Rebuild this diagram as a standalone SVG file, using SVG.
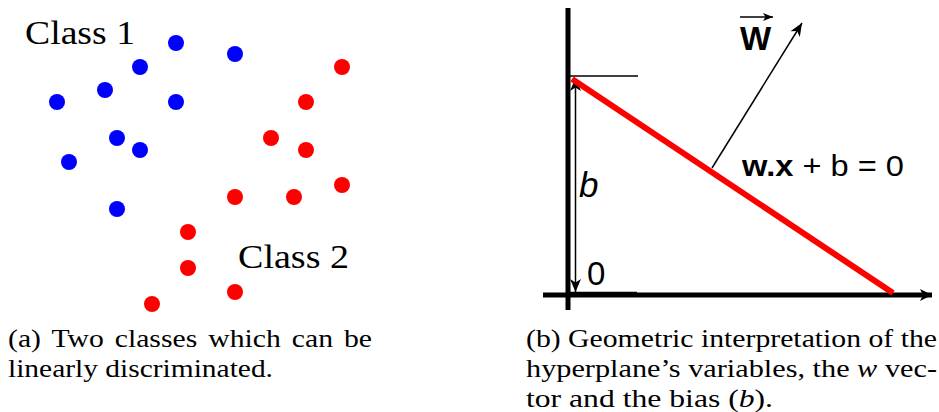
<svg xmlns="http://www.w3.org/2000/svg" width="939" height="412" viewBox="0 0 939 412">
<style>
.bg{fill:#fff}
.blue{fill:#0000ff}
.red{fill:#ff0000}
.serif{font-family:'Liberation Serif','Times New Roman',Times,serif;fill:#000}
.sans{font-family:'Liberation Sans',Arial,Helvetica,sans-serif;fill:#000}
.thin{stroke:#000;stroke-width:1.5;fill:none}
.axis{stroke:#000;stroke-width:5;fill:none}
.hyper{stroke:#ff0000;stroke-width:6;fill:none}
</style>
<defs>
<marker id="ah" markerUnits="userSpaceOnUse" markerWidth="16" markerHeight="14" refX="14" refY="7" orient="auto-start-reverse" viewBox="0 0 16 14">
<path d="M14,7 L1,1.5 L4.5,7 L1,12.5 Z" fill="#000"/>
</marker>
<marker id="ahs" markerUnits="userSpaceOnUse" markerWidth="12" markerHeight="10" refX="11" refY="5" orient="auto" viewBox="0 0 12 10">
<path d="M11,5 L1,1 L3.5,5 L1,9 Z" fill="#000"/>
</marker>
<marker id="ahx" markerUnits="userSpaceOnUse" markerWidth="14" markerHeight="14" refX="13" refY="7" orient="auto" viewBox="0 0 14 14">
<path d="M13,7 L1,1 L4,7 L1,13 Z" fill="#000"/>
</marker>
</defs>
<rect class="bg" x="0" y="0" width="939" height="412"/>

<!-- Panel (a) -->
<g id="class1-points">
<circle class="blue" cx="176" cy="43" r="8"/>
<circle class="blue" cx="235" cy="54" r="8"/>
<circle class="blue" cx="140" cy="67" r="8"/>
<circle class="blue" cx="105" cy="90" r="8"/>
<circle class="blue" cx="57" cy="102" r="8"/>
<circle class="blue" cx="176" cy="102" r="8"/>
<circle class="blue" cx="117" cy="138" r="8"/>
<circle class="blue" cx="140" cy="150" r="8"/>
<circle class="blue" cx="69" cy="162" r="8"/>
<circle class="blue" cx="117" cy="209" r="8"/>
</g>
<g id="class2-points">
<circle class="red" cx="342" cy="67" r="8"/>
<circle class="red" cx="306" cy="102" r="8"/>
<circle class="red" cx="271" cy="138" r="8"/>
<circle class="red" cx="306" cy="150" r="8"/>
<circle class="red" cx="342" cy="185" r="8"/>
<circle class="red" cx="235" cy="197" r="8"/>
<circle class="red" cx="294" cy="197" r="8"/>
<circle class="red" cx="188" cy="232" r="8"/>
<circle class="red" cx="188" cy="268" r="8"/>
<circle class="red" cx="235" cy="292" r="8"/>
<circle class="red" cx="152" cy="304" r="8"/>
</g>
<g id="label-class1"><text class="serif" x="25" y="44" font-size="34" textLength="110" lengthAdjust="spacingAndGlyphs">Class 1</text></g>
<g id="label-class2"><text class="serif" x="238" y="268" font-size="34" textLength="111" lengthAdjust="spacingAndGlyphs">Class 2</text></g>
<g id="caption-a">
<text class="serif" x="8" y="347" font-size="25" word-spacing="3" textLength="364" lengthAdjust="spacingAndGlyphs">(a) Two classes which can be</text>
<text class="serif" x="8" y="377" font-size="25" textLength="265" lengthAdjust="spacingAndGlyphs">linearly discriminated.</text>
</g>

<!-- Panel (b) -->
<g id="connectors">
<line class="axis" x1="568" y1="8" x2="568" y2="310"/>
<line class="axis" x1="543" y1="295" x2="932" y2="295" marker-end="url(#ahx)"/>
<line class="thin" x1="570" y1="76" x2="638" y2="76"/>
<line class="thin" x1="570" y1="292.5" x2="637" y2="292.5"/>
<line class="thin" x1="575.5" y1="78" x2="575.5" y2="292" marker-start="url(#ah)" marker-end="url(#ah)"/>
<line class="hyper" x1="572" y1="79" x2="893" y2="293"/>
<line class="thin" stroke-width="2.5" x1="712" y1="168" x2="802" y2="23" marker-end="url(#ah)"/>
<line class="thin" x1="740" y1="17" x2="773" y2="17" marker-end="url(#ahs)"/>
</g>
<g id="label-w"><text class="sans" x="740" y="50" font-size="33" font-weight="bold">W</text></g>
<g id="label-eq"><text class="sans" x="742" y="176" font-size="30" textLength="162" lengthAdjust="spacingAndGlyphs"><tspan font-weight="bold">w.x</tspan> + b = 0</text></g>
<g id="label-b"><text class="sans" x="579" y="197" font-size="35" font-style="italic">b</text></g>
<g id="label-0"><text class="sans" x="587" y="285" font-size="33">0</text></g>
<g id="caption-b">
<text class="serif" x="526" y="347" font-size="25" textLength="411" lengthAdjust="spacingAndGlyphs">(b) Geometric interpretation of the</text>
<text class="serif" x="526" y="377" font-size="25" textLength="411" lengthAdjust="spacingAndGlyphs">hyperplane’s variables, the <tspan font-style="italic">w</tspan> vec-</text>
<text class="serif" x="526" y="407" font-size="25" textLength="247" lengthAdjust="spacingAndGlyphs">tor and the bias (<tspan font-style="italic">b</tspan>).</text>
</g>
</svg>
